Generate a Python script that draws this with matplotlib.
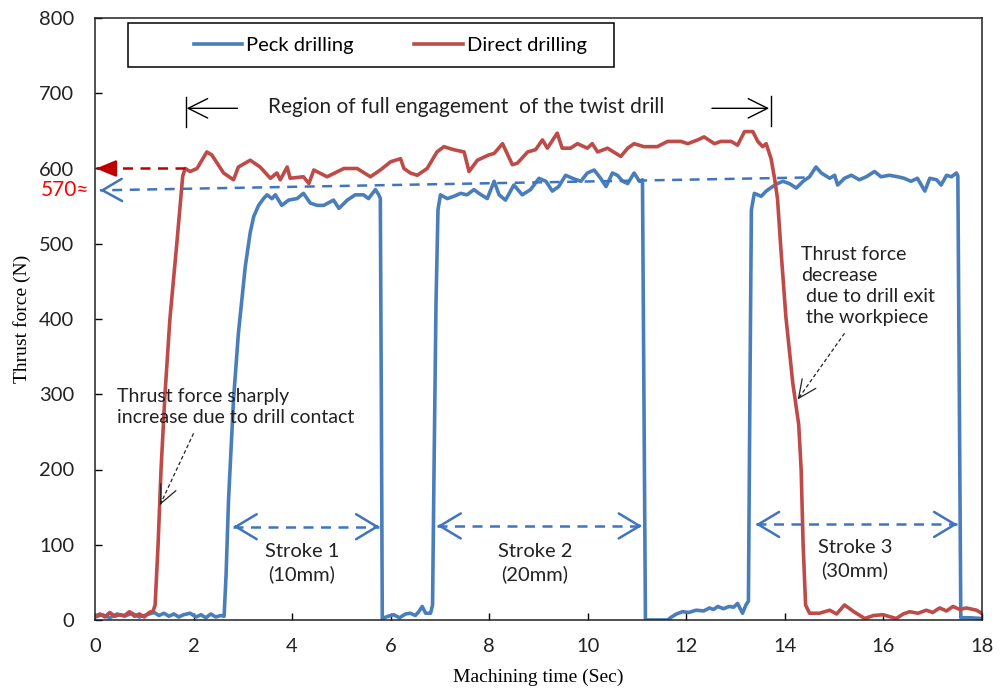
import matplotlib
matplotlib.use('Agg')
import matplotlib.pyplot as plt
from matplotlib.patches import Rectangle
import numpy as np

#### thrust force vs machining time
peck_time = [0.00, 0.15, 0.30, 0.45, 0.60, 0.75, 0.90, 1.05, 1.20, 1.30, 1.40, 1.50, 1.60, 1.70, 1.80, 1.93, 2.05, 2.15, 2.25, 2.35, 2.45, 2.55, 2.62,
             2.66, 2.71, 2.81, 2.91, 3.05, 3.15, 3.22, 3.32, 3.42, 3.49, 3.59, 3.66, 3.79, 3.93, 4.10, 4.23, 4.37, 4.51, 4.64, 4.84, 4.95, 5.12, 5.28, 5.45, 5.55, 5.69, 5.76, 5.79, 5.81, 5.83,
             5.95, 6.06, 6.18, 6.30, 6.40, 6.50, 6.57, 6.64, 6.71, 6.81, 6.85, 6.88, 6.92, 6.96, 7.01, 7.15, 7.28, 7.42, 7.55, 7.69, 7.79, 7.96, 8.10, 8.20, 8.33, 8.50, 8.67, 8.84, 9.01, 9.15, 9.28, 9.41, 9.55, 9.69, 9.86, 9.99, 10.13, 10.26, 10.37, 10.50, 10.60, 10.71, 10.81, 10.94, 11.05, 11.11, 11.14, 11.17,
             11.40, 11.62, 11.70, 11.80, 11.92, 12.05, 12.20, 12.35, 12.47, 12.55, 12.64, 12.75, 12.87, 12.96, 13.04, 13.14, 13.21, 13.26, 13.29, 13.32, 13.38, 13.52, 13.62, 13.75, 13.85, 13.96, 14.09, 14.23, 14.37, 14.50, 14.63, 14.74, 14.91, 15.01, 15.07, 15.21, 15.35, 15.51, 15.65, 15.82, 15.95, 16.12, 16.29, 16.42, 16.56, 16.69, 16.84, 16.94, 17.08, 17.17, 17.28, 17.38, 17.48, 17.51, 17.54, 17.57, 17.75, 18.00]
peck_force = [4, 7, 3, 8, 5, 9, 4, 7, 10, 6, 9, 5, 8, 4, 7, 9, 4, 7, 3, 8, 4, 6, 5,
              60, 160, 292, 381, 470, 515, 536, 551, 560, 565, 560, 565, 551, 558, 560, 567, 554, 551, 551, 558, 547, 558, 565, 565, 560, 572, 565, 560, 300, 2,
              5, 7, 3, 8, 9, 6, 11, 18, 9, 9, 20, 200, 420, 545, 565, 560, 563, 567, 565, 572, 567, 560, 583, 565, 558, 578, 565, 572, 587, 583, 570, 576, 591, 587, 583, 594, 598, 587, 576, 594, 591, 583, 580, 594, 583, 585, 300, 0,
              0, 0, 4, 8, 11, 10, 13, 12, 16, 14, 18, 15, 18, 17, 22, 9, 20, 25, 300, 545, 567, 563, 570, 576, 580, 583, 580, 574, 583, 589, 602, 594, 587, 591, 578, 587, 591, 585, 589, 596, 589, 591, 589, 587, 583, 587, 570, 587, 585, 578, 591, 589, 594, 590, 300, 3, 3, 2]

direct_time = [0.00, 0.10, 0.20, 0.30, 0.40, 0.50, 0.60, 0.70, 0.80, 0.90, 1.00, 1.10, 1.18, 1.22, 1.28, 1.34, 1.42, 1.52, 1.66, 1.78, 1.83, 1.93, 2.07, 2.27, 2.37, 2.61, 2.81, 2.91, 3.15, 3.35, 3.56, 3.69, 3.76, 3.90, 3.96, 4.23, 4.34, 4.44, 4.71, 5.05, 5.32, 5.59, 5.79, 6.00, 6.20, 6.27, 6.40, 6.54, 6.74, 6.94, 7.08, 7.28, 7.49, 7.59, 7.76, 7.99, 8.10, 8.27, 8.47, 8.57, 8.78, 8.94, 9.08, 9.18, 9.38, 9.48, 9.65, 9.79, 9.99, 10.09, 10.20, 10.40, 10.67, 10.81, 10.94, 11.14, 11.41, 11.62, 11.89, 12.03, 12.23, 12.36, 12.57, 12.70, 12.91, 13.04, 13.18, 13.35, 13.45, 13.55, 13.62, 13.72, 13.79, 13.85, 13.92, 14.02, 14.16, 14.28, 14.33, 14.37, 14.42, 14.50, 14.70, 14.91, 15.05, 15.21, 15.40, 15.62, 15.80, 15.99, 16.26, 16.40, 16.53, 16.70, 16.87, 17.00, 17.14, 17.28, 17.41, 17.55, 17.68, 17.89, 17.99]
direct_force = [5, 8, 4, 10, 5, 7, 6, 11, 5, 8, 4, 10, 12, 20, 100, 200, 300, 400, 500, 590, 600, 596, 600, 622, 618, 594, 585, 602, 611, 602, 587, 594, 585, 602, 587, 589, 580, 598, 589, 600, 600, 589, 598, 609, 613, 600, 594, 591, 600, 622, 629, 625, 622, 596, 611, 618, 620, 633, 605, 607, 622, 625, 638, 627, 647, 627, 627, 633, 627, 633, 622, 627, 616, 627, 633, 629, 629, 636, 636, 633, 638, 642, 633, 636, 636, 631, 649, 649, 636, 629, 633, 613, 587, 560, 492, 403, 315, 260, 200, 100, 20, 9, 9, 13, 8, 20, 11, 2, 6, 7, 2, 8, 11, 9, 13, 10, 16, 12, 18, 14, 16, 13, 9]

x_ticks = [0, 2, 4, 6, 8, 10, 12, 14, 16, 18]
y_ticks = [0, 100, 200, 300, 400, 500, 600, 700, 800]

BLUE = '#4A7EBB'
RED = '#BE4B48'
DASH_BLUE = '#3F74C0'
INK = '#222222'
sans = 'Lato'
serif = 'Liberation Serif'

fig = plt.figure(figsize=(10.05, 6.93), dpi=100)
ax = fig.add_axes([95/1005, 73/693, 887/1005, 602/693])

ax.plot(peck_time, peck_force, color=BLUE, lw=2.6, label='Peck drilling', solid_joinstyle='round')
ax.plot(direct_time, direct_force, color=RED, lw=2.6, label='Direct drilling', solid_joinstyle='round')

ax.set_xlim(0, 18)
ax.set_ylim(0, 800)
ax.set_xticks(x_ticks)
ax.set_yticks(y_ticks)
ax.tick_params(direction='in', length=5, width=1, labelsize=14.5)
ax.tick_params(axis='y', pad=15)
ax.tick_params(axis='x', pad=13)
for lab in ax.get_xticklabels() + ax.get_yticklabels():
    lab.set_fontfamily(sans)
    lab.set_color(INK)
for s in ax.spines.values():
    s.set_linewidth(1.1)
    s.set_color(INK)

ax.set_xlabel('Machining time (Sec)', fontsize=14, family=serif)
ax.set_ylabel('Thrust force (N)', fontsize=14, family=serif)
ax.xaxis.label.set_va('center')
ax.yaxis.label.set_va('center')
ax.xaxis.set_label_coords(0.5, -0.096)
ax.yaxis.set_label_coords(-0.082, 0.5)

# legend inside a plain black box
ax.add_patch(Rectangle((33/887, 553/602), 486/887, 44/602, transform=ax.transAxes,
                       fill=False, ec='black', lw=1.1, zorder=5))
ax.legend(loc='center', bbox_to_anchor=(0.333, 0.955), ncol=2, frameon=False,
          prop={'family': sans, 'size': 14.5}, handlelength=2.4, handletextpad=0.2,
          columnspacing=3.0, borderpad=0)


def dashed_arrow(start, end, color, lw, dash, tips, head):
    # dashed shaft + solid head(s), head drawn from a tiny solid stub
    ax.plot([start[0], end[0]], [start[1], end[1]], color=color, lw=lw,
            dashes=dash, clip_on=False)
    fig.canvas.draw()
    for tip, other in tips:
        pt = ax.transData.transform(tip)
        po = ax.transData.transform(other)
        d = (po - pt) / np.hypot(*(po - pt))
        base = ax.transData.inverted().transform(pt + 4 * d)
        ax.annotate('', xy=tip, xytext=tuple(base),
                    arrowprops=dict(arrowstyle=head, color=color, lw=lw,
                                    mutation_scale=10, shrinkA=0, shrinkB=0))


# region of full engagement
eng = '->,head_length=1.4,head_width=0.7'
ax.annotate('', xy=(1.86, 680), xytext=(2.89, 680),
            arrowprops=dict(arrowstyle=eng, color='black', lw=1, mutation_scale=10,
                            shrinkA=0, shrinkB=0))
ax.annotate('', xy=(13.68, 680), xytext=(12.52, 680),
            arrowprops=dict(arrowstyle=eng, color='black', lw=1, mutation_scale=10,
                            shrinkA=0, shrinkB=0))
ax.plot([1.84, 1.84], [655, 695], color='black', lw=1)
ax.plot([13.72, 13.72], [657, 697], color='black', lw=1)
ax.text(3.52, 682, 'Region of full engagement  of the twist drill', family=sans,
        fontsize=15, ha='left', va='center', color=INK)

# reference levels
p1 = (0.02, 600)
p2 = (1.82, 600)
dashed_arrow(p2, p1, '#C00000', 1.8, (4, 3), [(p1, p2)], '-|>,head_length=1.2,head_width=0.5')
q1 = (0.1, 571)
q2 = (14.4, 588)
dashed_arrow(q2, q1, DASH_BLUE, 1.8, (4, 3), [(q1, q2)], '->,head_length=1.4,head_width=0.8')
ax.text(-0.12, 571, '570≈', color='#FF0000', family=['Lato', 'DejaVu Sans'], fontsize=15,
        ha='right', va='center')

# strokes
hs = '->,head_length=1.5,head_width=0.9'
for a, b in [((2.81, 124), (5.77, 124)), ((6.95, 125), (11.1, 125)), ((13.41, 127), (17.5, 127))]:
    dashed_arrow(a, b, DASH_BLUE, 1.8, (4, 3), [(a, b), (b, a)], hs)
ax.text(4.2, 76, 'Stroke 1\n(10mm)', family=sans, fontsize=14.5, ha='center', va='center',
        linespacing=1.35, color=INK)
ax.text(8.93, 76, 'Stroke 2\n(20mm)', family=sans, fontsize=14.5, ha='center', va='center',
        linespacing=1.35, color=INK)
ax.text(15.42, 81, 'Stroke 3\n(30mm)', family=sans, fontsize=14.5, ha='center', va='center',
        linespacing=1.35, color=INK)

# notes
ax.text(0.45, 283, 'Thrust force sharply\nincrease due to drill contact', family=sans,
        fontsize=14, ha='left', va='center', linespacing=1.3, color=INK)
dashed_arrow((2.0, 248), (1.32, 153), INK, 0.9, (3, 2), [((1.32, 153), (2.0, 248))],
             '->,head_length=1.3,head_width=0.6')
ax.text(14.33, 444, 'Thrust force\ndecrease\n due to drill exit\n the workpiece', family=sans,
        fontsize=14, ha='left', va='center', linespacing=1.3, color=INK)
dashed_arrow((15.21, 381), (14.26, 293), INK, 0.9, (3, 2), [((14.26, 293), (15.21, 381))],
             '->,head_length=1.3,head_width=0.6')

plt.savefig('out.png', dpi=100)
